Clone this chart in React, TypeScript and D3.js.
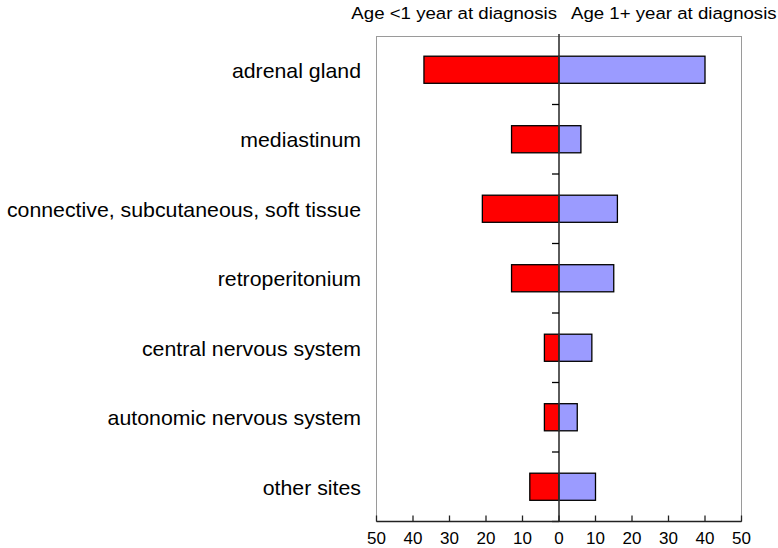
import React from "react";
import * as d3 from "d3";

const categories = [
  "adrenal gland",
  "mediastinum",
  "connective, subcutaneous, soft tissue",
  "retroperitonium",
  "central nervous system",
  "autonomic nervous system",
  "other sites",
];
const under1 = [37, 13, 21, 13, 4, 4, 8];
const over1 = [40, 6, 16, 15, 9, 5, 10];
const xTicks = [-50, -40, -30, -20, -10, 0, 10, 20, 30, 40, 50];
const seriesNames = ["Age <1 year at diagnosis", "Age 1+ year at diagnosis"];

const W = 778;
const H = 548;
const left = 376.5;
const right = 741.5;
const top = 35;
const bottom = 521.5;

function SText(props: { x: number; y: number; sx: number; size: number; anchor: string; children: React.ReactNode }) {
  return (
    <text
      transform={`translate(${props.x},${props.y}) scale(${props.sx},1)`}
      textAnchor={props.anchor as any}
      fontSize={props.size}
      fill="#000"
    >
      {props.children}
    </text>
  );
}

export default function App() {
  const x = d3.scaleLinear().domain([-50, 50]).range([left, right]);
  const y = d3.scaleBand().domain(categories).range([top, bottom]).paddingInner(0).paddingOuter(0);
  const bw = y.bandwidth();
  const barH = bw * 0.39;
  const font = "'Liberation Sans', Arial, sans-serif";
  const x0 = x(0);
  return (
    <svg width={W} height={H} style={{ position: "absolute", left: 0, top: 0 }} fontFamily={font}>
      <rect x={0} y={0} width={W} height={H} fill="#fff" />
      {/* frame */}
      <rect x={left} y={36.5} width={right - left} height={bottom - 36.5} fill="none" stroke="#9a9a9a" strokeWidth={1} />
      {/* bars */}
      {categories.map((c, i) => {
        const yc = (y(c) as number) + bw / 2;
        return (
          <g key={c}>
            <rect x={x(-under1[i])} y={yc - barH / 2} width={x0 - x(-under1[i])} height={barH} fill="#ff0000" stroke="#000" strokeWidth={1.3} />
            <rect x={x0} y={yc - barH / 2} width={x(over1[i]) - x0} height={barH} fill="#9b9bff" stroke="#000" strokeWidth={1.3} />
            <SText x={361} y={yc + 7.8} sx={1.087} size={19.6} anchor="end">{c}</SText>
          </g>
        );
      })}
      {/* zero line */}
      <line x1={x0} x2={x0} y1={34} y2={bottom} stroke="#333" strokeWidth={1.6} />
      {categories.slice(1).map((c) => (
        <line key={"t" + c} x1={x0 - 7} x2={x0} y1={y(c) as number} y2={y(c) as number} stroke="#000" strokeWidth={1.3} />
      ))}
      <line x1={x0 - 7} x2={x0} y1={bottom} y2={bottom} stroke="#000" strokeWidth={1.3} />
      {/* bottom axis */}
      <line x1={left} x2={right} y1={bottom} y2={bottom} stroke="#222" strokeWidth={1.6} />
      {xTicks.map((t) => (
        <g key={"x" + t}>
          <line x1={x(t)} x2={x(t)} y1={bottom} y2={bottom - 6} stroke="#222" strokeWidth={1.3} />
          <text x={x(t)} y={543.5} textAnchor="middle" fontSize={17} fill="#000">{Math.abs(t)}</text>
        </g>
      ))}
      {/* header */}
      <SText x={557} y={19.4} sx={1.11} size={16.8} anchor="end">{seriesNames[0]}</SText>
      <SText x={571} y={19.4} sx={1.11} size={16.8} anchor="start">{seriesNames[1]}</SText>
    </svg>
  );
}
